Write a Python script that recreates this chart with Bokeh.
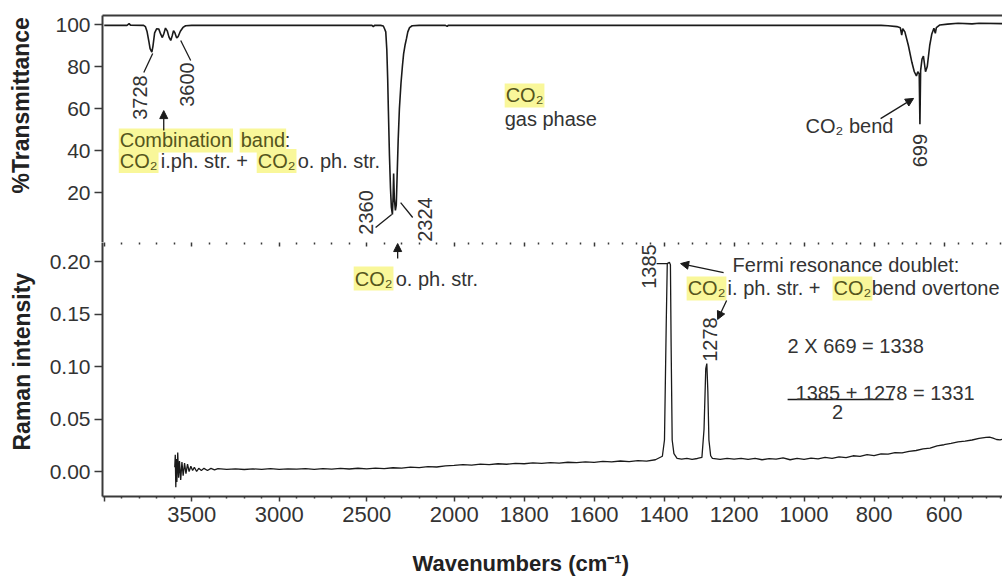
import numpy as np
from bokeh.plotting import figure
from bokeh.layouts import column
from bokeh.models import (Range1d, FixedTicker, LinearAxis, Label, Arrow, Title,
                          NormalHead, NumeralTickFormatter)
from bokeh.embed import file_html
from bokeh.resources import INLINE

# ---------------- data ----------------
ir_wn = [4000, 3870, 3858, 3850, 3775, 3765, 3755, 3745, 3738, 3728, 3722, 3712,
         3700, 3688, 3678, 3668, 3660, 3650, 3640, 3630, 3620, 3612, 3604, 3596,
         3586, 3578, 3565, 3550, 3535, 3500, 3200, 2900, 2600, 2470, 2462, 2455,
         2420, 2405, 2398, 2391, 2385, 2380, 2376, 2370, 2364, 2359, 2353, 2349,
         2346, 2342, 2336, 2331, 2326, 2320, 2313, 2304, 2296, 2289, 2280, 2272,
         2265, 2255, 2240, 2200, 2050, 2040, 2034, 1600, 1200, 900, 780, 760,
         735, 725, 721, 718, 712, 702, 692, 685, 679, 675, 671, 669,
         667, 663, 659, 653, 648, 641, 635, 629, 625, 622, 612, 590,
         560, 520, 500, 430]
ir_t = [99.6, 99.6, 100.4, 99.7, 99.6, 99.0, 96.5, 92.0, 88.5, 86.8, 89.5, 96.0,
        98.0, 97.8, 95.5, 93.8, 95.5, 98.3, 97.0, 94.0, 92.4, 94.5, 97.1, 96.0,
        93.6, 94.2, 96.8, 98.6, 99.4, 99.6, 99.6, 99.6, 99.6, 99.6, 99.0, 99.6,
        99.6, 99.3, 98.0, 96.5, 88.0, 74.0, 59.0, 38.0, 22.0, 13.0, 9.5, 18.0,
        29.0, 17.0, 11.5, 14.0, 28.0, 45.0, 60.0, 72.0, 80.0, 86.0, 90.5, 93.5,
        96.5, 98.5, 99.4, 99.6, 99.6, 99.1, 99.6, 99.6, 99.6, 99.6, 99.6, 99.4,
        99.0, 98.4, 95.0, 98.0, 96.5, 90.0, 82.0, 77.5, 75.5, 77.5, 76.5, 52.5,
        78.0, 83.5, 85.0, 77.5, 80.0, 90.0, 95.5, 98.2, 95.8, 98.5, 99.8, 100.2,
        100.6, 100.3, 100.6, 100.4]

raman_wn = [3597, 3594, 3591, 3588, 3585, 3580, 3575, 3570, 3563, 3556, 3549, 3541,
            3533, 3524, 3515, 3505, 3495, 3485, 3472, 3460, 3445, 3430, 3410, 3390,
            3370, 3350, 3300, 3250, 3200, 3150, 3100, 3050, 3000, 2950, 2900, 2850,
            2800, 2750, 2700, 2650, 2600, 2550, 2500, 2450, 2400, 2350, 2300, 2250,
            2200, 2150, 2100, 2050, 2000, 1975, 1950, 1925, 1900, 1875, 1850, 1825,
            1800, 1775, 1750, 1725, 1700, 1675, 1650, 1625, 1600, 1575, 1550, 1525,
            1500, 1475, 1450, 1425, 1405, 1399, 1394, 1391, 1385, 1382, 1380, 1377,
            1372, 1363, 1350, 1335, 1320, 1305, 1292, 1286, 1281, 1278, 1275, 1272,
            1267, 1262, 1240, 1220, 1200, 1180, 1160, 1140, 1120, 1100, 1080, 1060,
            1040, 1020, 1000, 980, 960, 940, 920, 900, 880, 860, 840, 820,
            800, 780, 760, 740, 720, 700, 680, 660, 640, 620, 600, 580,
            560, 540, 520, 500, 480, 470, 460, 450, 440, 430]
raman_i = [0.004, 0.016, -0.015, 0.012, -0.010, 0.018, -0.006, 0.010, -0.008, 0.009, -0.004, 0.008,
           -0.002, 0.007, 0.000, 0.005, 0.001, 0.004, 0.000, 0.003, 0.001, 0.003, 0.001, 0.003,
           0.0015, 0.0028, 0.0020, 0.0026, 0.0019, 0.0025, 0.0021, 0.0027, 0.0020, 0.0026, 0.0022, 0.0028,
           0.0021, 0.0027, 0.0022, 0.0029, 0.0024, 0.0031, 0.0025, 0.0033, 0.0028, 0.0036, 0.0032, 0.0041,
           0.0037, 0.0046, 0.0043, 0.0053, 0.0058, 0.0065, 0.0060, 0.0070, 0.0066, 0.0074, 0.0069, 0.0078,
           0.0074, 0.0082, 0.0077, 0.0085, 0.0080, 0.0088, 0.0084, 0.0092, 0.0087, 0.0096, 0.0091, 0.0100,
           0.0095, 0.0104, 0.0099, 0.0112, 0.0145, 0.030, 0.140, 0.198, 0.1992, 0.197, 0.120, 0.030,
           0.017, 0.0125, 0.0118, 0.0126, 0.0116, 0.0124, 0.0135, 0.040, 0.098, 0.1028, 0.076, 0.030,
           0.015, 0.0125, 0.0115, 0.0125, 0.0118, 0.0126, 0.0115, 0.0125, 0.0112, 0.0122, 0.0118, 0.0130,
           0.0112, 0.0125, 0.0115, 0.0128, 0.0120, 0.0134, 0.0125, 0.0140, 0.0132, 0.0150, 0.0145, 0.0160,
           0.0152, 0.0168, 0.0165, 0.0180, 0.0178, 0.0192, 0.0200, 0.0215, 0.0222, 0.0245, 0.0255, 0.0268,
           0.0282, 0.0290, 0.0300, 0.0315, 0.0325, 0.0328, 0.0318, 0.0305, 0.0302, 0.0310]

assert len(ir_wn) == len(ir_t)
assert len(raman_wn) == len(raman_i)

x_major = [4000, 3500, 3000, 2500, 2000, 1800, 1600, 1400, 1200, 1000, 800, 600]
x_major_labels = ["", "3500", "3000", "2500", "2000", "1800", "1600", "1400",
                  "1200", "1000", "800", "600"]
x_minor = ([v for v in range(3900, 2000, -100) if v % 500] +
           [v for v in range(1960, 420, -40) if v % 200])
ir_ticks = [20, 40, 60, 80, 100]
raman_ticks = [0.0, 0.05, 0.10, 0.15, 0.20]

FONT = "Liberation Sans"
TXT = "#333333"
HL = "#f9f79a"
HL_TXT = "#55551c"
LINE = "#1a1a1a"
AX = "#3a3a3a"
SPACER = "\u00a0"


def to_u(v):
    """Spectrometer axis: 2x compression above 2000 cm-1."""
    v = np.asarray(v, dtype=float)
    return np.where(v <= 2000, v, 2000 + (v - 2000) / 2.0)


def fu(v):
    return float(to_u(v))


x_ticker = FixedTicker(ticks=[int(fu(v)) for v in x_major],
                       minor_ticks=[float(fu(v)) for v in x_minor])
x_overrides = {int(fu(v)): s for v, s in zip(x_major, x_major_labels)}

xr = Range1d(start=3005, end=433)


def style_y(fig, ticks, gap):
    ax = fig.yaxis[0]
    ax.ticker = FixedTicker(ticks=ticks)
    ax.major_label_text_font = FONT
    ax.major_label_text_font_size = "21px"
    ax.major_label_text_color = TXT
    ax.major_label_standoff = 4
    ax.major_tick_out = 8
    ax.major_tick_in = 0
    ax.minor_tick_out = 0
    ax.minor_tick_in = 0
    ax.axis_line_color = AX
    ax.axis_line_width = 2
    ax.major_tick_line_color = AX
    ax.major_tick_line_width = 1.5
    # invisible spacer label: pushes the side title away from the tick labels
    ax.axis_label = SPACER
    ax.axis_label_text_font_size = "1px"
    ax.axis_label_standoff = gap


def side_title(fig, text, offset):
    fig.add_layout(Title(text=text, align="left", offset=offset, standoff=0,
                         text_font=FONT, text_font_size="23px", text_font_style="bold",
                         text_color="#222222"), "left")


# ---------------- top: IR ----------------
top = figure(width=1002, height=242, x_range=xr, y_range=Range1d(-3.81, 104.29),
             output_backend="svg", toolbar_location=None, x_axis_location=None,
             min_border_left=102, min_border_right=0, min_border_top=15,
             min_border_bottom=0)
top.outline_line_color = None
top.grid.visible = False
top.background_fill_color = "white"
top.border_fill_color = "white"
style_y(top, ir_ticks, 15)
side_title(top, "%Transmittance", 49)

top_line = LinearAxis(ticker=FixedTicker(ticks=[]), major_tick_out=0, major_tick_in=0,
                      minor_tick_out=0, minor_tick_in=0, major_label_text_font_size="0px",
                      major_label_standoff=0, axis_line_color=AX, axis_line_width=2)
top.add_layout(top_line, "above")

top.line(to_u(ir_wn), ir_t, line_color=LINE, line_width=1.6)

# ---------------- bottom: Raman ----------------
bot = figure(width=1002, height=335, x_range=xr, y_range=Range1d(-0.0238, 0.2181),
             output_backend="svg", toolbar_location=None,
             min_border_left=102, min_border_right=0, min_border_top=0,
             min_border_bottom=81)
bot.outline_line_color = None
bot.grid.visible = False
bot.background_fill_color = "white"
bot.border_fill_color = "white"
style_y(bot, raman_ticks, 8)
bot.yaxis[0].formatter = NumeralTickFormatter(format="0.00")
side_title(bot, "Raman intensity", 46)

xa = bot.xaxis[0]
xa.ticker = x_ticker
xa.major_label_overrides = x_overrides
xa.major_label_text_font = FONT
xa.major_label_text_font_size = "22px"
xa.major_label_text_color = TXT
xa.major_label_standoff = 3
xa.major_tick_out = 7
xa.major_tick_in = 0
xa.minor_tick_out = 5
xa.minor_tick_in = 0
xa.axis_line_color = AX
xa.axis_line_width = 2
xa.major_tick_line_color = AX
xa.major_tick_line_width = 1.5
xa.major_tick_line_dash = "0 2 5"
xa.minor_tick_line_color = AX
xa.minor_tick_line_width = 1.5
xa.minor_tick_line_dash = "0 3 2"
xa.axis_label = SPACER
xa.axis_label_text_font_size = "1px"
xa.axis_label_standoff = 20

dots = LinearAxis(ticker=x_ticker, axis_line_color=None, major_tick_in=4, major_tick_out=0,
                  minor_tick_in=2, minor_tick_out=0, major_label_text_font_size="0px",
                  major_label_standoff=0, major_label_overrides={k: "" for k in x_overrides},
                  major_tick_line_color=AX, minor_tick_line_color=AX,
                  major_tick_line_width=1.5, minor_tick_line_width=1.5)
bot.add_layout(dots, "above")

# x-axis title
bot.add_layout(Title(text="Wavenumbers (cm⁻¹)", align="left", offset=310, standoff=0,
                     text_font=FONT, text_font_size="22px", text_font_style="bold",
                     text_color="#222222"), "below")

bot.line(to_u(raman_wn), raman_i, line_color=LINE, line_width=1.3)

# ---------------- annotations ----------------
# (wavenumber, value at text centre, text, align, angle, highlighted)
top_texts = [
    (3797, 65.2, "3728", "center", np.pi / 2, False),
    (3528.6, 71.4, "3600", "center", np.pi / 2, False),
    (3917, 44.8, "Combination", "left", 0, True),
    (3226, 44.8, "band", "left", 0, True),
    (2969, 44.8, ":", "left", 0, False),
    (3917, 35.0, "CO₂", "left", 0, True),
    (3677, 35.0, "i.ph. str. +", "left", 0, False),
    (3128.6, 35.0, "CO₂", "left", 0, True),
    (2894.3, 35.0, "o. ph. str.", "left", 0, False),
    (1855.7, 66.2, "CO₂", "left", 0, True),
    (1855.7, 54.8, "gas phase", "left", 0, False),
    (2505.7, 10.5, "2360", "center", np.pi / 2, False),
    (2168.6, 7.1, "2324", "center", np.pi / 2, False),
    (995.7, 51.7, "CO₂ bend", "left", 0, False),
    (669.9, 40.0, "669", "center", -np.pi / 2, False),
]
bot_texts = [
    (2574.3, 0.1838, "CO₂", "left", 0, True),
    (2334.3, 0.1838, "o. ph. str.", "left", 0, False),
    (1444.3, 0.1952, "1385", "center", np.pi / 2, False),
    (1204.3, 0.1962, "Fermi resonance doublet:", "left", 0, False),
    (1335.7, 0.1743, "CO₂", "left", 0, True),
    (1218.6, 0.1743, "i. ph. str. +", "left", 0, False),
    (918.6, 0.1743, "CO₂", "left", 0, True),
    (807.0, 0.1743, "bend overtone", "left", 0, False),
    (1270, 0.1257, "1278", "center", np.pi / 2, False),
    (1047.1, 0.1200, "2 X 669 = 1338", "left", 0, False),
    (1024.3, 0.0748, "1385 + 1278 = 1331", "left", 0, False),
    (904.3, 0.0567, "2", "center", 0, False),
]
# leader lines (wn0, y0, wn1, y1)
top_leaders = [(3723, 86.2, 3774, 77.1), (3563, 92.4, 3506, 82.9),
               (2357, 9.5, 2449, 3.3), (2306, 15.2, 2237, 8.1)]
bot_leaders = [(1421.4, 0.198, 1390, 0.198), (1047.1, 0.0686, 744.3, 0.0686)]
# arrows (tail wn, tail y, head wn, head y)
top_arrows = [(3660, 49.5, 3660, 59.0), (781.4, 55.2, 687.1, 64.8)]
bot_arrows = [(2323, 0.2029, 2323, 0.2171), (1230, 0.1895, 1352.9, 0.198),
              (1221.4, 0.1629, 1247.1, 0.1448)]


def add_texts(fig, items):
    for v, y, t, al, ang, hl in items:
        kw = dict(x=fu(v), y=y, text=t, text_font=FONT, text_font_size="20px",
                  text_align=al, text_baseline="middle", angle=ang, text_color=TXT)
        if hl:
            kw.update(background_fill_color=HL, text_color=HL_TXT, padding=1)
        fig.add_layout(Label(**kw))


def add_leaders(fig, items):
    fig.segment(x0=[fu(a[0]) for a in items], y0=[a[1] for a in items],
                x1=[fu(a[2]) for a in items], y1=[a[3] for a in items],
                line_color=LINE, line_width=1.3)


def add_arrows(fig, items):
    for x0, y0, x1, y1 in items:
        fig.add_layout(Arrow(x_start=fu(x0), y_start=y0, x_end=fu(x1), y_end=y1,
                             line_color=LINE, line_width=1.3,
                             end=NormalHead(size=8, fill_color=LINE, line_color=LINE,
                                            line_width=1)))


add_texts(top, top_texts)
add_texts(bot, bot_texts)
add_leaders(top, top_leaders)
add_leaders(bot, bot_leaders)
add_arrows(top, top_arrows)
add_arrows(bot, bot_arrows)

page = column(top, bot, spacing=0)
open("out.html", "w").write(file_html(page, INLINE))
